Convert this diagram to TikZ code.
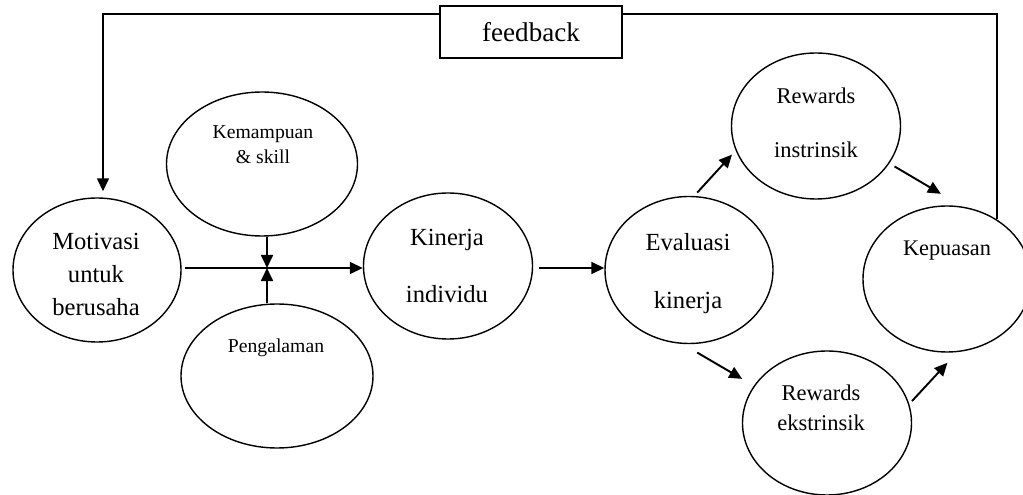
\documentclass[tikz,border=0pt]{standalone}
\usepackage{fontspec}
\setmainfont{Liberation Serif}
\usetikzlibrary{arrows.meta,shapes.geometric}
\tikzstyle{oval}=[draw, ellipse, line width=0.8pt, inner sep=0pt]
\tikzstyle{txt}=[align=center, inner sep=0pt, text depth=0pt]
\tikzstyle{arr}=[-{Triangle[length=7.4pt,width=6.8pt]}, line width=1.1pt]
\tikzstyle{fbline}=[line width=0.8pt]

\begin{document}
\begin{tikzpicture}
	\useasboundingbox (0,0) rectangle (20.46,9.9);
	% ovals
	\node[oval, minimum width=3.36cm, minimum height=2.88cm] (mot) at (1.94,4.5) {};
	\node[oval, minimum width=3.82cm, minimum height=2.88cm] (kem) at (5.24,6.62) {};
	\node[oval, minimum width=3.84cm, minimum height=2.88cm] (peng) at (5.54,2.38) {};
	\node[oval, minimum width=3.38cm, minimum height=2.92cm] (kin) at (8.96,4.58) {};
	\node[oval, minimum width=3.36cm, minimum height=2.94cm] (eval) at (13.78,4.5) {};
	\node[oval, minimum width=3.38cm, minimum height=2.92cm] (rin) at (16.32,7.38) {};
	\node[oval, minimum width=3.36cm, minimum height=2.92cm] (kep) at (18.94,4.32) {};
	\node[oval, minimum width=3.38cm, minimum height=2.88cm] (rek) at (16.54,1.44) {};
	% texts
	\node[txt, font=\fontsize{14}{18.8}\selectfont] (motT) at (1.92,4.41) {Motivasi\\untuk\\berusaha};
	\node[txt, font=\fontsize{11.2}{14.2}\selectfont] (kemT) at (5.26,7.0) {Kemampuan\\\& skill};
	\node[txt, font=\fontsize{11.2}{14}\selectfont] (pengT) at (5.52,2.99) {Pengalaman};
	\node[txt, font=\fontsize{14}{32.4}\selectfont] (kinT) at (8.94,4.58) {Kinerja\\individu};
	\node[txt, font=\fontsize{14}{33}\selectfont] (evalT) at (13.76,4.49) {Evaluasi\\kinerja};
	\node[txt, font=\fontsize{12.8}{30.7}\selectfont] (rinT) at (16.32,7.45) {Rewards\\instrinsik};
	\node[txt, font=\fontsize{12.8}{17.1}\selectfont] (rekT) at (16.42,1.75) {Rewards\\ekstrinsik};
	\node[txt, font=\fontsize{12.7}{15}\selectfont] (kepT) at (18.94,4.93) {Kepuasan};
	% feedback
	\node[draw, line width=0.8pt, minimum width=3.64cm, minimum height=1.04cm, inner sep=0pt, text depth=0pt, font=\fontsize{15.4}{18}\selectfont] (fb) at (10.62,9.26) {feedback};
	\coordinate (fbL) at (2.06,9.62);
	\coordinate (fbR) at (19.94,9.62);
	\coordinate (jn) at (5.34,4.54);
	\draw[fbline] (kep.50 -| fbR) -- (fbR) -- (fb.east |- fbR);
	\draw[arr, line width=0.9pt, shorten >=0.12cm] (fb.west |- fbL) -- (fbL) -- (mot.north -| fbL);
	% arrows
	\draw[arr, shorten <=0.06cm] (mot.east |- jn) -- (kin.west |- jn);
	\draw[arr] (kem.south -| jn) -- (jn);
	\draw[arr] (peng.north -| jn) -- (jn);
	\draw[arr, shorten <=0.11cm] (kin.east |- jn) -- (eval.west |- jn);
	\draw[arr, shorten <=0.09cm, shorten >=0.11cm] (eval.86) -- (rin.197.5);
	\draw[arr, shorten <=0.12cm, shorten >=0.5cm] (rin.333.2) -- (kep.78.7);
	\draw[arr, shorten <=0.34cm, shorten >=0.27cm] (eval.265) -- (rek.153);
	\draw[arr, shorten <=0.08cm, shorten >=0.29cm] (rek.13.9) -- (kep.278);
\end{tikzpicture}
\end{document}
